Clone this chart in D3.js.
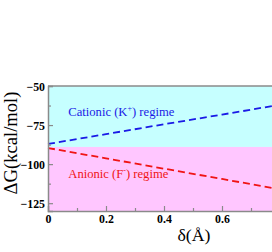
<!DOCTYPE html>
<html><head><meta charset="utf-8">
<script src="https://cdn.jsdelivr.net/npm/d3@7"></script>
<style>body{margin:0;background:#fff}svg{display:block}
svg text{font-family:"Liberation Serif","Times New Roman",Times,"DejaVu Serif",serif !important}</style>
</head><body>
<script>
const delta = [0, 0.2, 0.4, 0.6, 0.8];
const cationic = [-87.1, -80.8, -74.5, -68.3, -62.0];
const anionic = [-89.7, -96.3, -102.9, -109.5, -116.1];
const boundary = -89;
const xTicks = [0, 0.2, 0.4, 0.6];
const yTicks = [-50, -75, -100, -125];
const xMinor = [0.1, 0.3, 0.5, 0.7];
const yMinor = [-62.5, -87.5, -112.5];

const W = 272, H = 252;
const m = {l: 48, t: 86, r: 280, b: 211};
const svg = d3.select("body").append("svg").attr("width", W).attr("height", H);
const x = d3.scaleLinear().domain([0, 0.8]).range([m.l, m.r]);
const y = d3.scaleLinear().domain([-130, -50]).range([m.b, m.t]);

function fit(sel, target) {
  const fs = +sel.attr("font-size");
  const len = sel.node().getComputedTextLength();
  if (len > 0) sel.attr("font-size", (fs * target / len).toFixed(2));
}

svg.append("rect").attr("x", x(0)).attr("y", y(-50)).attr("width", x(0.8) - x(0))
  .attr("height", y(boundary) - y(-50)).attr("fill", "#c6ffff");
svg.append("rect").attr("x", x(0)).attr("y", y(boundary)).attr("width", x(0.8) - x(0))
  .attr("height", y(-130) - y(boundary)).attr("fill", "#ffc6ff");

const line = d3.line().x((d, i) => x(delta[i])).y(d => y(d));
svg.append("path").datum(cationic).attr("d", line).attr("fill", "none")
  .attr("stroke", "#1a1ae6").attr("stroke-width", 1.8).attr("stroke-dasharray", "7,4");
svg.append("path").datum(anionic).attr("d", line).attr("fill", "none")
  .attr("stroke", "#f01414").attr("stroke-width", 1.8).attr("stroke-dasharray", "7,4");

const gray = "#8a8a8a";
const xa = svg.append("g").attr("transform", `translate(0,${m.b})`)
  .call(d3.axisBottom(x).tickValues(xTicks).tickSize(-5).tickFormat(d => d === 0 ? "0" : d3.format(".1f")(d)));
xa.selectAll(".tick").filter(d => d === 0).select("line").remove();
const xm = svg.append("g").attr("transform", `translate(0,${m.b})`)
  .call(d3.axisBottom(x).tickValues(xMinor).tickSize(-3).tickFormat(""));
xm.select(".domain").remove();
const ya = svg.append("g").attr("transform", `translate(${m.l},0)`)
  .call(d3.axisLeft(y).tickValues(yTicks).tickSize(-5));
const ym = svg.append("g").attr("transform", `translate(${m.l},0)`)
  .call(d3.axisLeft(y).tickValues(yMinor).tickSize(-3).tickFormat(""));
ym.select(".domain").remove();
svg.append("line").attr("x1", x(0)).attr("x2", x(0.8)).attr("y1", y(-50)).attr("y2", y(-50))
  .attr("stroke", gray).attr("stroke-width", 1.5);

svg.selectAll(".domain").attr("stroke", gray).attr("stroke-width", 1.5);
svg.selectAll(".tick line").attr("stroke", gray).attr("stroke-width", 1.2);
svg.selectAll("g").attr("font-family", null);
svg.selectAll(".tick text").attr("font-weight", "bold").attr("font-size", 13).attr("fill", "#000");
const t100 = ya.selectAll(".tick text").filter(d => d === -100);
const tfs = 13 * 24.5 / t100.node().getComputedTextLength();
svg.selectAll(".tick text").attr("font-size", tfs.toFixed(2));
xa.selectAll(".tick text").attr("dy", null).attr("y", 12);
ya.selectAll(".tick text").attr("x", -3).attr("dy", "0.35em");

const cat = svg.append("text").attr("x", x(0.07)).attr("y", 116)
  .attr("font-size", 13).attr("fill", "#1a1ae6")
  .html('Cationic (K<tspan dy="-5" font-size="8">+</tspan><tspan dy="5">) regime</tspan>');
const ani = svg.append("text").attr("x", x(0.07)).attr("y", 178)
  .attr("font-size", 13).attr("fill", "#f01414")
  .html('Anionic (F<tspan dy="-5" font-size="8">-</tspan><tspan dy="5">) regime</tspan>');
const lenC = cat.node().getComputedTextLength();
const fsC = 13 * 106 / lenC;
cat.attr("font-size", fsC.toFixed(2)); ani.attr("font-size", fsC.toFixed(2));

const xl = svg.append("text").attr("x", 194).attr("y", 241).attr("text-anchor", "middle")
  .attr("font-size", 17).text("δ(Å)");
fit(xl, 33);
const yl = svg.append("text").attr("transform", `translate(17,143) rotate(-90)`)
  .attr("text-anchor", "middle").attr("font-size", 16)
  .text("ΔG(kcal/mol)");
fit(yl, 103);
</script>
</body></html>
